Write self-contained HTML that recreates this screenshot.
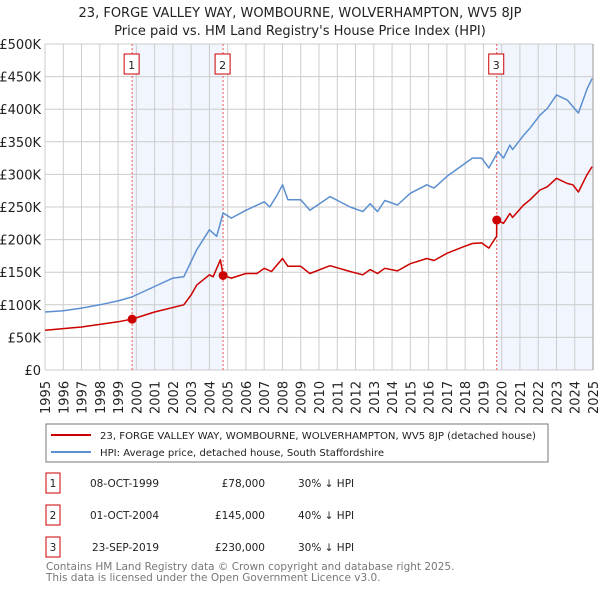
<!DOCTYPE html>
<html><head><meta charset="utf-8"><style>
body{margin:0;background:#fff;font-family:"Liberation Sans","DejaVu Sans",sans-serif;}
svg text{font-family:"DejaVu Sans","Liberation Sans",sans-serif;}
</style></head><body>
<svg id="chart" width="600" height="590" viewBox="0 0 600 590" xmlns="http://www.w3.org/2000/svg">
<text x="300" y="17" text-anchor="middle" font-size="13" fill="#222">23, FORGE VALLEY WAY, WOMBOURNE, WOLVERHAMPTON, WV5 8JP</text>
<text x="300" y="35" text-anchor="middle" font-size="13" fill="#222">Price paid vs. HM Land Registry's House Price Index (HPI)</text>
<g id="plot"></g>
<g>
<rect x="46" y="424" width="502" height="38" fill="#fff" stroke="#777"/>
<line x1="51" y1="435" x2="91" y2="435" stroke="#cc0000" stroke-width="2"/>
<text x="100" y="439" font-size="10.1" fill="#222">23, FORGE VALLEY WAY, WOMBOURNE, WOLVERHAMPTON, WV5 8JP (detached house)</text>
<line x1="51" y1="452" x2="91" y2="452" stroke="#5b8fd0" stroke-width="2"/>
<text x="100" y="456" font-size="10.1" fill="#222">HPI: Average price, detached house, South Staffordshire</text>
</g>
<g id="table"></g>
<text x="46" y="570" font-size="10.5" fill="#777">Contains HM Land Registry data © Crown copyright and database right 2025.</text>
<text x="46" y="581" font-size="10.5" fill="#777">This data is licensed under the Open Government Licence v3.0.</text>
</svg>
<script>
const hpiYears=[1995,1996,1997,1998,1999,1999.75,2001,2002,2002.6,2003.3,2004,2004.4,2004.75,2005.2,2006,2007,2007.3,2007.7,2008.0,2008.3,2009,2009.5,2010.6,2011.7,2012.4,2012.8,2013.2,2013.6,2014.3,2015.0,2015.9,2016.3,2017.0,2017.9,2018.4,2018.9,2019.3,2019.8,2020.1,2020.45,2020.6,2021.2,2021.55,2022.1,2022.5,2023.0,2023.6,2023.9,2024.2,2024.66,2024.95];
const hpiValues=[89,91,95,100,106,112,128,141,143,184,215,205,241,233,245,258,250,268,284,261,261,245,266,250,243,255,243,260,253,271,284,279,297,315,325,325,310,335,325,345,338,360,371,391,401,422,414,404,394,430,447];
const priceYears=[1995,1997,1998,1999,1999.77,2001,2002.6,2003,2003.3,2004,2004.2,2004.6,2004.75,2005.2,2006,2006.6,2007,2007.4,2007.7,2008.0,2008.3,2009,2009.5,2010.6,2011.7,2012.4,2012.8,2013.2,2013.6,2014.3,2015.0,2015.9,2016.3,2017.0,2017.9,2018.4,2018.9,2019.3,2019.6,2019.72,2019.73,2020.1,2020.45,2020.6,2021.2,2021.55,2022.1,2022.5,2023.0,2023.6,2023.9,2024.2,2024.66,2024.95];
const priceValues=[61,66,70,74,78,89,100,115,130,146,143,169,145,141,148,148,156,151,161,171,159,159,148,160,151,146,154,148,156,152,163,171,168,179,189,194,195,187,200,205,230,225,240,234,253,261,276,281,294,286,284,273,299,312];
const saleYears=[1999.77,2004.75,2019.73];
const saleValues=[78,145,230];
const saleLabels=["1","2","3"];
const saleDates=["08-OCT-1999","01-OCT-2004","23-SEP-2019"];
const salePrices=["£78,000","£145,000","£230,000"];
const saleDiffs=["30% ↓ HPI","40% ↓ HPI","30% ↓ HPI"];
const yTicks=[0,50,100,150,200,250,300,350,400,450,500];
const yTickLabels=["£0","£50K","£100K","£150K","£200K","£250K","£300K","£350K","£400K","£450K","£500K"];
const xTicks=[1995,1996,1997,1998,1999,2000,2001,2002,2003,2004,2005,2006,2007,2008,2009,2010,2011,2012,2013,2014,2015,2016,2017,2018,2019,2020,2021,2022,2023,2024,2025];

const NS="http://www.w3.org/2000/svg";
const L=45,R=593,T=44,B=370;
const x=v=>L+(v-1995)/30*(R-L);
const y=v=>B-v/500*(B-T);
const plot=document.getElementById('plot');
function mk(tag,attrs,parent){const e=document.createElementNS(NS,tag);for(const k in attrs)e.setAttribute(k,attrs[k]);(parent||plot).appendChild(e);return e;}
const shade1=mk('rect',{x:x(saleYears[0]),y:T,width:x(saleYears[1])-x(saleYears[0]),height:B-T,fill:'#eef3fc',opacity:0.8});


const shade2=mk('rect',{x:x(saleYears[2]),y:T,width:R-x(saleYears[2]),height:B-T,fill:'#eef3fc',opacity:0.8});


xTicks.forEach((t,i)=>{
  const g=mk('line',{x1:x(t),x2:x(t),y1:T,y2:B,stroke:'#cccccc','stroke-width':1});
  
  
  const lb=mk('text',{x:0,y:0,transform:`translate(${x(t)+5},${414}) rotate(-90)`,'font-size':13,fill:'#222'});
  lb.textContent=t;
  
  
});
yTicks.forEach((t,i)=>{
  const g=mk('line',{x1:L,x2:R,y1:y(t),y2:y(t),stroke:'#cccccc','stroke-width':1});
  
  
  const lb=mk('text',{x:41,y:y(t)+5,'text-anchor':'end','font-size':13,fill:'#222'});
  lb.textContent=yTickLabels[i];
  
  
});
const edge=mk('line',{x1:R,x2:R,y1:T,y2:B,stroke:'#999','stroke-width':1});


saleYears.forEach((s,i)=>{
  const v=mk('line',{x1:x(s),x2:x(s),y1:T,y2:B,stroke:'#ee5555','stroke-width':1,'stroke-dasharray':'2,2'});
  
  
  const bx=mk('rect',{x:x(s)-8,y:54,width:15,height:20,fill:'#fff',stroke:'#cc0000','stroke-width':1});
  
  
  const tx=mk('text',{x:x(s)-0.5,y:69,'text-anchor':'middle','font-size':11,fill:'#222'});
  tx.textContent=saleLabels[i];
  
  
});
function line(xs,vs,color,name){
  const p=mk('path',{d:xs.map((t,i)=>(i?'L':'M')+x(t).toFixed(1)+','+y(vs[i]).toFixed(1)).join(''),fill:'none',stroke:color,'stroke-width':1.5,'stroke-linejoin':'round'});
  
  
}
line(hpiYears,hpiValues,'#5b8fd0','hpi-line');
line(priceYears,priceValues,'#cc0000','price-paid-line');
saleYears.forEach((s,i)=>{
  const c=mk('circle',{cx:x(s),cy:y(saleValues[i]),r:4.5,fill:'#cc0000'});
  
  
});
const tb=document.getElementById('table');
saleLabels.forEach((lab,i)=>{
  const yy=473+i*32;
  const r=mk('rect',{x:46,y:yy,width:14,height:20,fill:'#fff',stroke:'#cc0000'},tb);
  
  
  const cells=[[53,lab,'middle'],[159,saleDates[i],'end'],[265,salePrices[i],'end'],[298,saleDiffs[i],'start']];
  cells.forEach(c=>{
    const t=mk('text',{x:c[0],y:yy+14,'text-anchor':c[2],'font-size':10.5,fill:'#222'},tb);
    t.textContent=c[1];
    
    
  });
});
</script>
</body></html>
